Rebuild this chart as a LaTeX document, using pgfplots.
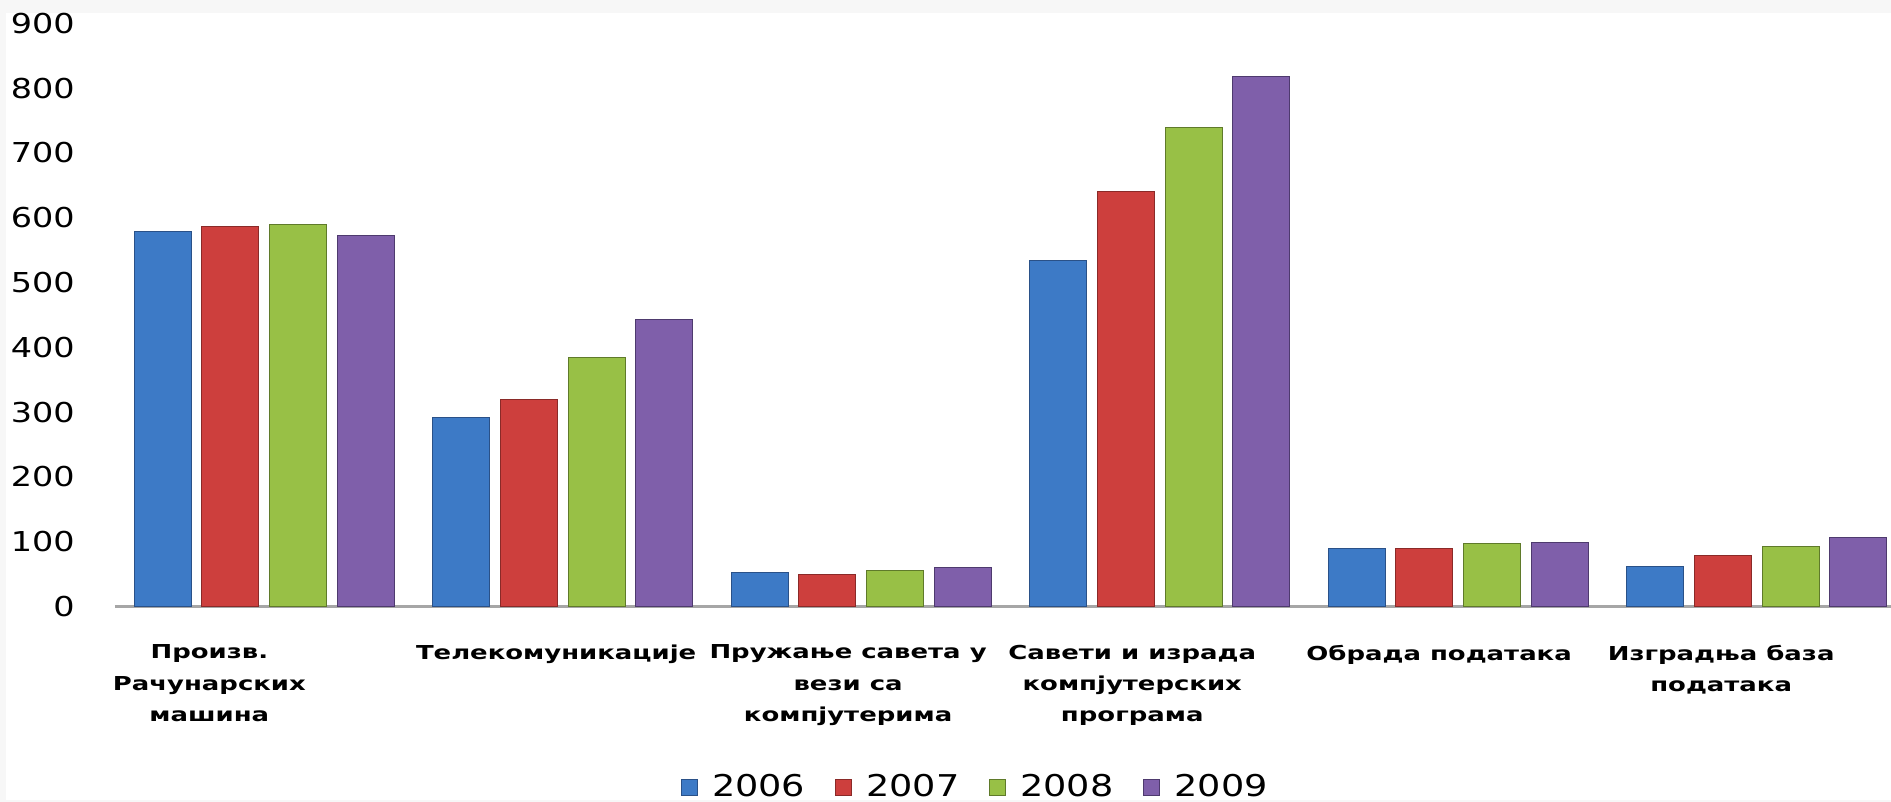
\documentclass[border=0pt]{standalone}
\usepackage{fontspec}
\usepackage{pgfplots}
\pgfplotsset{compat=1.18}
\newfontfamily\tickfont{DejaVu Sans}[FakeStretch=1.22]
\newfontfamily\lblfont{DejaVu Sans}[FakeStretch=1.35]

\definecolor{bgframe}{HTML}{F7F7F7}
\definecolor{axisgray}{HTML}{A6A6A6}
% bar colours: body, outline
\definecolor{blueM}{HTML}{3D7AC6}\definecolor{blueO}{HTML}{2A5188}
\definecolor{redM}{HTML}{CD3F3D}\definecolor{redO}{HTML}{8A2A28}
\definecolor{grnM}{HTML}{98C046}\definecolor{grnO}{HTML}{5F7A2A}
\definecolor{purM}{HTML}{7F5FAA}\definecolor{purO}{HTML}{4E3A6E}

\begin{document}
\begin{tikzpicture}
\useasboundingbox (-57.5bp,-97.75bp) rectangle (888bp,303.25bp);
\fill[bgframe] (-57.5bp,-97.75bp) rectangle (888bp,303.25bp);
\fill[white] (-54.5bp,-96.5bp) rectangle (888bp,296.75bp);
\begin{axis}[
    at={(0,0)}, anchor=south west,
    scale only axis,
    width=888bp, height=291.6bp,
    ybar=5.4bp,
    bar width=28.5bp,
    xmin=-0.5, xmax=5.45,
    ymin=0, ymax=900,
    axis x line*=bottom,
    axis y line*=left,
    x axis line style={draw=axisgray, line width=1.2bp, -},
    y axis line style={draw=none},
    major tick length=0pt,
    ytick={0,100,...,900},
    xtick={-0.184,0.978,1.956,2.908,3.936,4.881},
    xticklabels={
        {Произв.\\Рачунарских\\машина},
        {Телекомуникације},
        {Пружање савета у\\вези са\\компјутерима},
        {Савети и израда\\компјутерских\\програма},
        {Обрада података},
        {Изградња база\\података}},
    /pgf/number format/assume math mode=true,
    yticklabel style={font=\tickfont\fontsize{13.7bp}{16bp}\selectfont, anchor=east, inner sep=0pt, xshift=-20bp},
    xticklabel style={font=\lblfont\bfseries\fontsize{9.6bp}{15.6bp}\selectfont, align=center, anchor=north, inner sep=0pt, yshift=-19bp},
    legend columns=4,
    legend style={draw=none, fill=none, at={(axis description cs:0.485,-0.31)}, anchor=center,
        font=\tickfont\fontsize{15bp}{17bp}\selectfont,
        /tikz/every odd column/.append style={column sep=5bp},
        /tikz/every even column/.append style={column sep=13bp},
        inner sep=0pt},
    legend image code/.code={\path[#1] (0bp,-4bp) rectangle (8bp,4bp);},
    clip=false,
]
\addplot[fill=blueM, draw=blueO, line width=0.5bp]
    coordinates {(0,578) (1,292) (2,53) (3,534) (4,90) (5,62)};
\addplot[fill=redM, draw=redO, line width=0.5bp]
    coordinates {(0,587) (1,320) (2,50) (3,641) (4,90) (5,78)};
\addplot[fill=grnM, draw=grnO, line width=0.5bp]
    coordinates {(0,590) (1,385) (2,55) (3,739) (4,97) (5,92)};
\addplot[fill=purM, draw=purO, line width=0.5bp]
    coordinates {(0,573) (1,443) (2,60) (3,818) (4,99) (5,106)};
\legend{2006,2007,2008,2009}
\end{axis}
\end{tikzpicture}
\end{document}
